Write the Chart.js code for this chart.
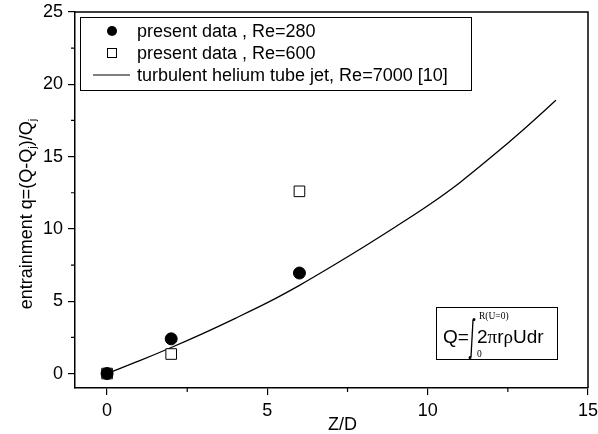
<!DOCTYPE html>
<html>
<head>
<meta charset="utf-8">
<title>entrainment</title>
<script src="https://cdn.jsdelivr.net/npm/chart.js@4.4.1/dist/chart.umd.min.js"></script>
<style>
  html, body { margin: 0; padding: 0; background: #fff; }
  #wrap { width: 598px; height: 434px; }
</style>
</head>
<body>
<div id="wrap"><canvas id="entrainment_chart"></canvas></div>
<script>
// present data , Re=280  (filled circles)
const zRe280 = [0, 2, 6];
const qRe280 = [0, 2.4, 6.95];

// present data , Re=600  (open squares)
const zRe600 = [0, 2, 6];
const qRe600 = [0, 1.35, 12.6];

// turbulent helium tube jet, Re=7000 [10]
const zJet = [0, 1, 2, 3, 4, 5, 6, 7, 8, 9, 10, 11, 12, 13, 14];
const qJet = [0, 0.87, 1.8, 2.78, 3.82, 4.9, 6.1, 7.4, 8.75, 10.15, 11.6, 13.2, 15.0, 16.9, 18.9];

const labels = ['present data , Re=280', 'present data , Re=600', 'turbulent helium tube jet, Re=7000 [10]'];
const xTicks = [0, 5, 10, 15];
const yTicks = [0, 5, 10, 15, 20, 25];

const SANS = '"Liberation Sans", Arial, sans-serif';
const SERIF = '"Liberation Serif", "Times New Roman", serif';

function toPoints(xs, ys) {
    let pts = [];
    for (let i = 0; i < xs.length; i++) {
        pts.push({ x: xs[i], y: ys[i] });
    }
    return pts;
}

// box round the plot, minor ticks, axis titles, legend and the Q formula
const decorations = {
    id: 'decorations',
    afterDraw(chart) {
        const ctx = chart.ctx;
        const a = chart.chartArea;
        const xs = chart.scales.x;
        const ys = chart.scales.y;

        ctx.save();
        ctx.strokeStyle = '#000';
        ctx.fillStyle = '#000';

        // top and right edges
        ctx.lineWidth = 1.5;
        ctx.beginPath();
        ctx.moveTo(a.left, a.top);
        ctx.lineTo(a.right, a.top);
        ctx.lineTo(a.right, a.bottom);
        ctx.stroke();

        // minor ticks half way between the labelled ones
        ctx.lineWidth = 1.2;
        ctx.beginPath();
        for (let i = 0; i < xTicks.length - 1; i++) {
            const px = xs.getPixelForValue((xTicks[i] + xTicks[i + 1]) / 2);
            ctx.moveTo(px, a.bottom);
            ctx.lineTo(px, a.bottom + 4);
        }
        for (let i = 0; i < yTicks.length - 1; i++) {
            const py = ys.getPixelForValue((yTicks[i] + yTicks[i + 1]) / 2);
            ctx.moveTo(a.left - 4, py);
            ctx.lineTo(a.left, py);
        }
        ctx.stroke();

        // x title
        ctx.font = '18px ' + SANS;
        ctx.textAlign = 'center';
        ctx.textBaseline = 'middle';
        ctx.fillText('Z/D', (a.left + a.right) / 2 + 11, 425);

        // y title with subscripts
        const parts = [['entrainment q=(Q-Q', false], ['j', true], [')/Q', false], ['j', true]];
        let total = 0;
        parts.forEach(p => {
            ctx.font = (p[1] ? '11px ' : '18px ') + SANS;
            total += ctx.measureText(p[0]).width;
        });
        ctx.translate(32, (a.top + a.bottom) / 2 + 14);
        ctx.rotate(-Math.PI / 2);
        ctx.textAlign = 'left';
        ctx.textBaseline = 'alphabetic';
        let tx = -total / 2;
        parts.forEach(p => {
            ctx.font = (p[1] ? '11px ' : '18px ') + SANS;
            ctx.fillText(p[0], tx, p[1] ? 4 : 0);
            tx += ctx.measureText(p[0]).width;
        });
        ctx.setTransform(1, 0, 0, 1, 0, 0);

        // legend
        const lx = a.left + 5, ly = a.top + 5;
        ctx.lineWidth = 1;
        ctx.strokeRect(lx + 0.5, ly + 0.5, 391, 73);
        const rows = [ly + 14, ly + 36, ly + 58];
        const mx = lx + 32;
        ctx.beginPath();
        ctx.arc(mx, rows[0], 5, 0, Math.PI * 2);
        ctx.fill();
        ctx.strokeRect(mx - 4.5, rows[1] - 4.5, 9, 9);
        ctx.beginPath();
        ctx.moveTo(lx + 13, rows[2]);
        ctx.lineTo(lx + 50, rows[2]);
        ctx.stroke();
        ctx.font = '18px ' + SANS;
        ctx.textBaseline = 'middle';
        for (let i = 0; i < 3; i++) {
            ctx.fillText(labels[i], lx + 57, rows[i] + 1);
        }

        // Q formula box
        const bx = a.right - 152, by = a.bottom - 81;
        ctx.strokeRect(bx + 0.5, by + 0.5, 121, 52);
        ctx.textBaseline = 'alphabetic';
        ctx.font = '19px ' + SANS;
        ctx.fillText('Q=', bx + 7, by + 36);
        // stretched integral sign
        ctx.lineWidth = 1.3;
        ctx.beginPath();
        ctx.moveTo(bx + 37, by + 13);
        ctx.lineTo(bx + 35, by + 50);
        ctx.stroke();
        ctx.beginPath();
        ctx.arc(bx + 38, by + 12.5, 1.5, 0, Math.PI * 2);
        ctx.arc(bx + 34, by + 50.5, 1.5, 0, Math.PI * 2);
        ctx.fill();
        let fx = bx + 41;
        [['2', SANS], ['\u03c0', SERIF], ['r', SANS], ['\u03c1', SERIF], ['Udr', SANS]].forEach(p => {
            ctx.font = '19px ' + p[1];
            ctx.fillText(p[0], fx, by + 36);
            fx += ctx.measureText(p[0]).width;
        });
        ctx.font = '9.5px ' + SERIF;
        ctx.fillText('R(U=0)', bx + 43, by + 12);
        ctx.fillText('0', bx + 41, by + 50);

        ctx.restore();
    }
};

const config = {
    type: 'scatter',
    data: {
        datasets: [{
            label: labels[0],
            data: toPoints(zRe280, qRe280),
            pointStyle: 'circle',
            pointRadius: 6,
            pointBackgroundColor: '#000',
            pointBorderColor: '#000',
            pointBorderWidth: 1,
            order: 1
        }, {
            label: labels[1],
            data: toPoints(zRe600, qRe600),
            pointStyle: 'rect',
            pointRadius: 7.5,
            pointBackgroundColor: '#fff',
            pointBorderColor: '#000',
            pointBorderWidth: 1,
            order: 2
        }, {
            label: labels[2],
            data: toPoints(zJet, qJet),
            showLine: true,
            cubicInterpolationMode: 'monotone',
            borderColor: '#000',
            borderWidth: 1.3,
            pointRadius: 0,
            order: 3
        }]
    },
    options: {
        responsive: false,
        animation: false,
        layout: { padding: { top: 12, right: 10, left: 0, bottom: 0 } },
        plugins: {
            legend: { display: false },
            tooltip: { enabled: false }
        },
        scales: {
            x: {
                type: 'linear',
                min: -1,
                max: 15,
                afterFit(scale) {
                    scale.height = 46;
                    scale.paddingLeft = 0;
                    scale.paddingRight = 0;
                },
                border: { display: true, color: '#000', width: 1.5 },
                grid: { drawOnChartArea: false, drawTicks: true, tickLength: 7, color: '#000', lineWidth: 1.2 },
                ticks: { stepSize: 5, includeBounds: false, padding: 5, color: '#000', font: { family: SANS, size: 18 } }
            },
            y: {
                type: 'linear',
                min: -1,
                max: 25,
                afterFit(scale) {
                    scale.width = 75;
                    scale.paddingTop = 0;
                    scale.paddingBottom = 0;
                },
                border: { display: true, color: '#000', width: 1.5 },
                grid: { drawOnChartArea: false, drawTicks: true, tickLength: 7, color: '#000', lineWidth: 1.2 },
                ticks: { stepSize: 5, includeBounds: false, padding: 5, color: '#000', font: { family: SANS, size: 18 } }
            }
        }
    },
    plugins: [decorations]
};

const canvas = document.getElementById('entrainment_chart');
canvas.width = 598;
canvas.height = 434;
new Chart(canvas.getContext('2d'), config);
</script>
</body>
</html>
